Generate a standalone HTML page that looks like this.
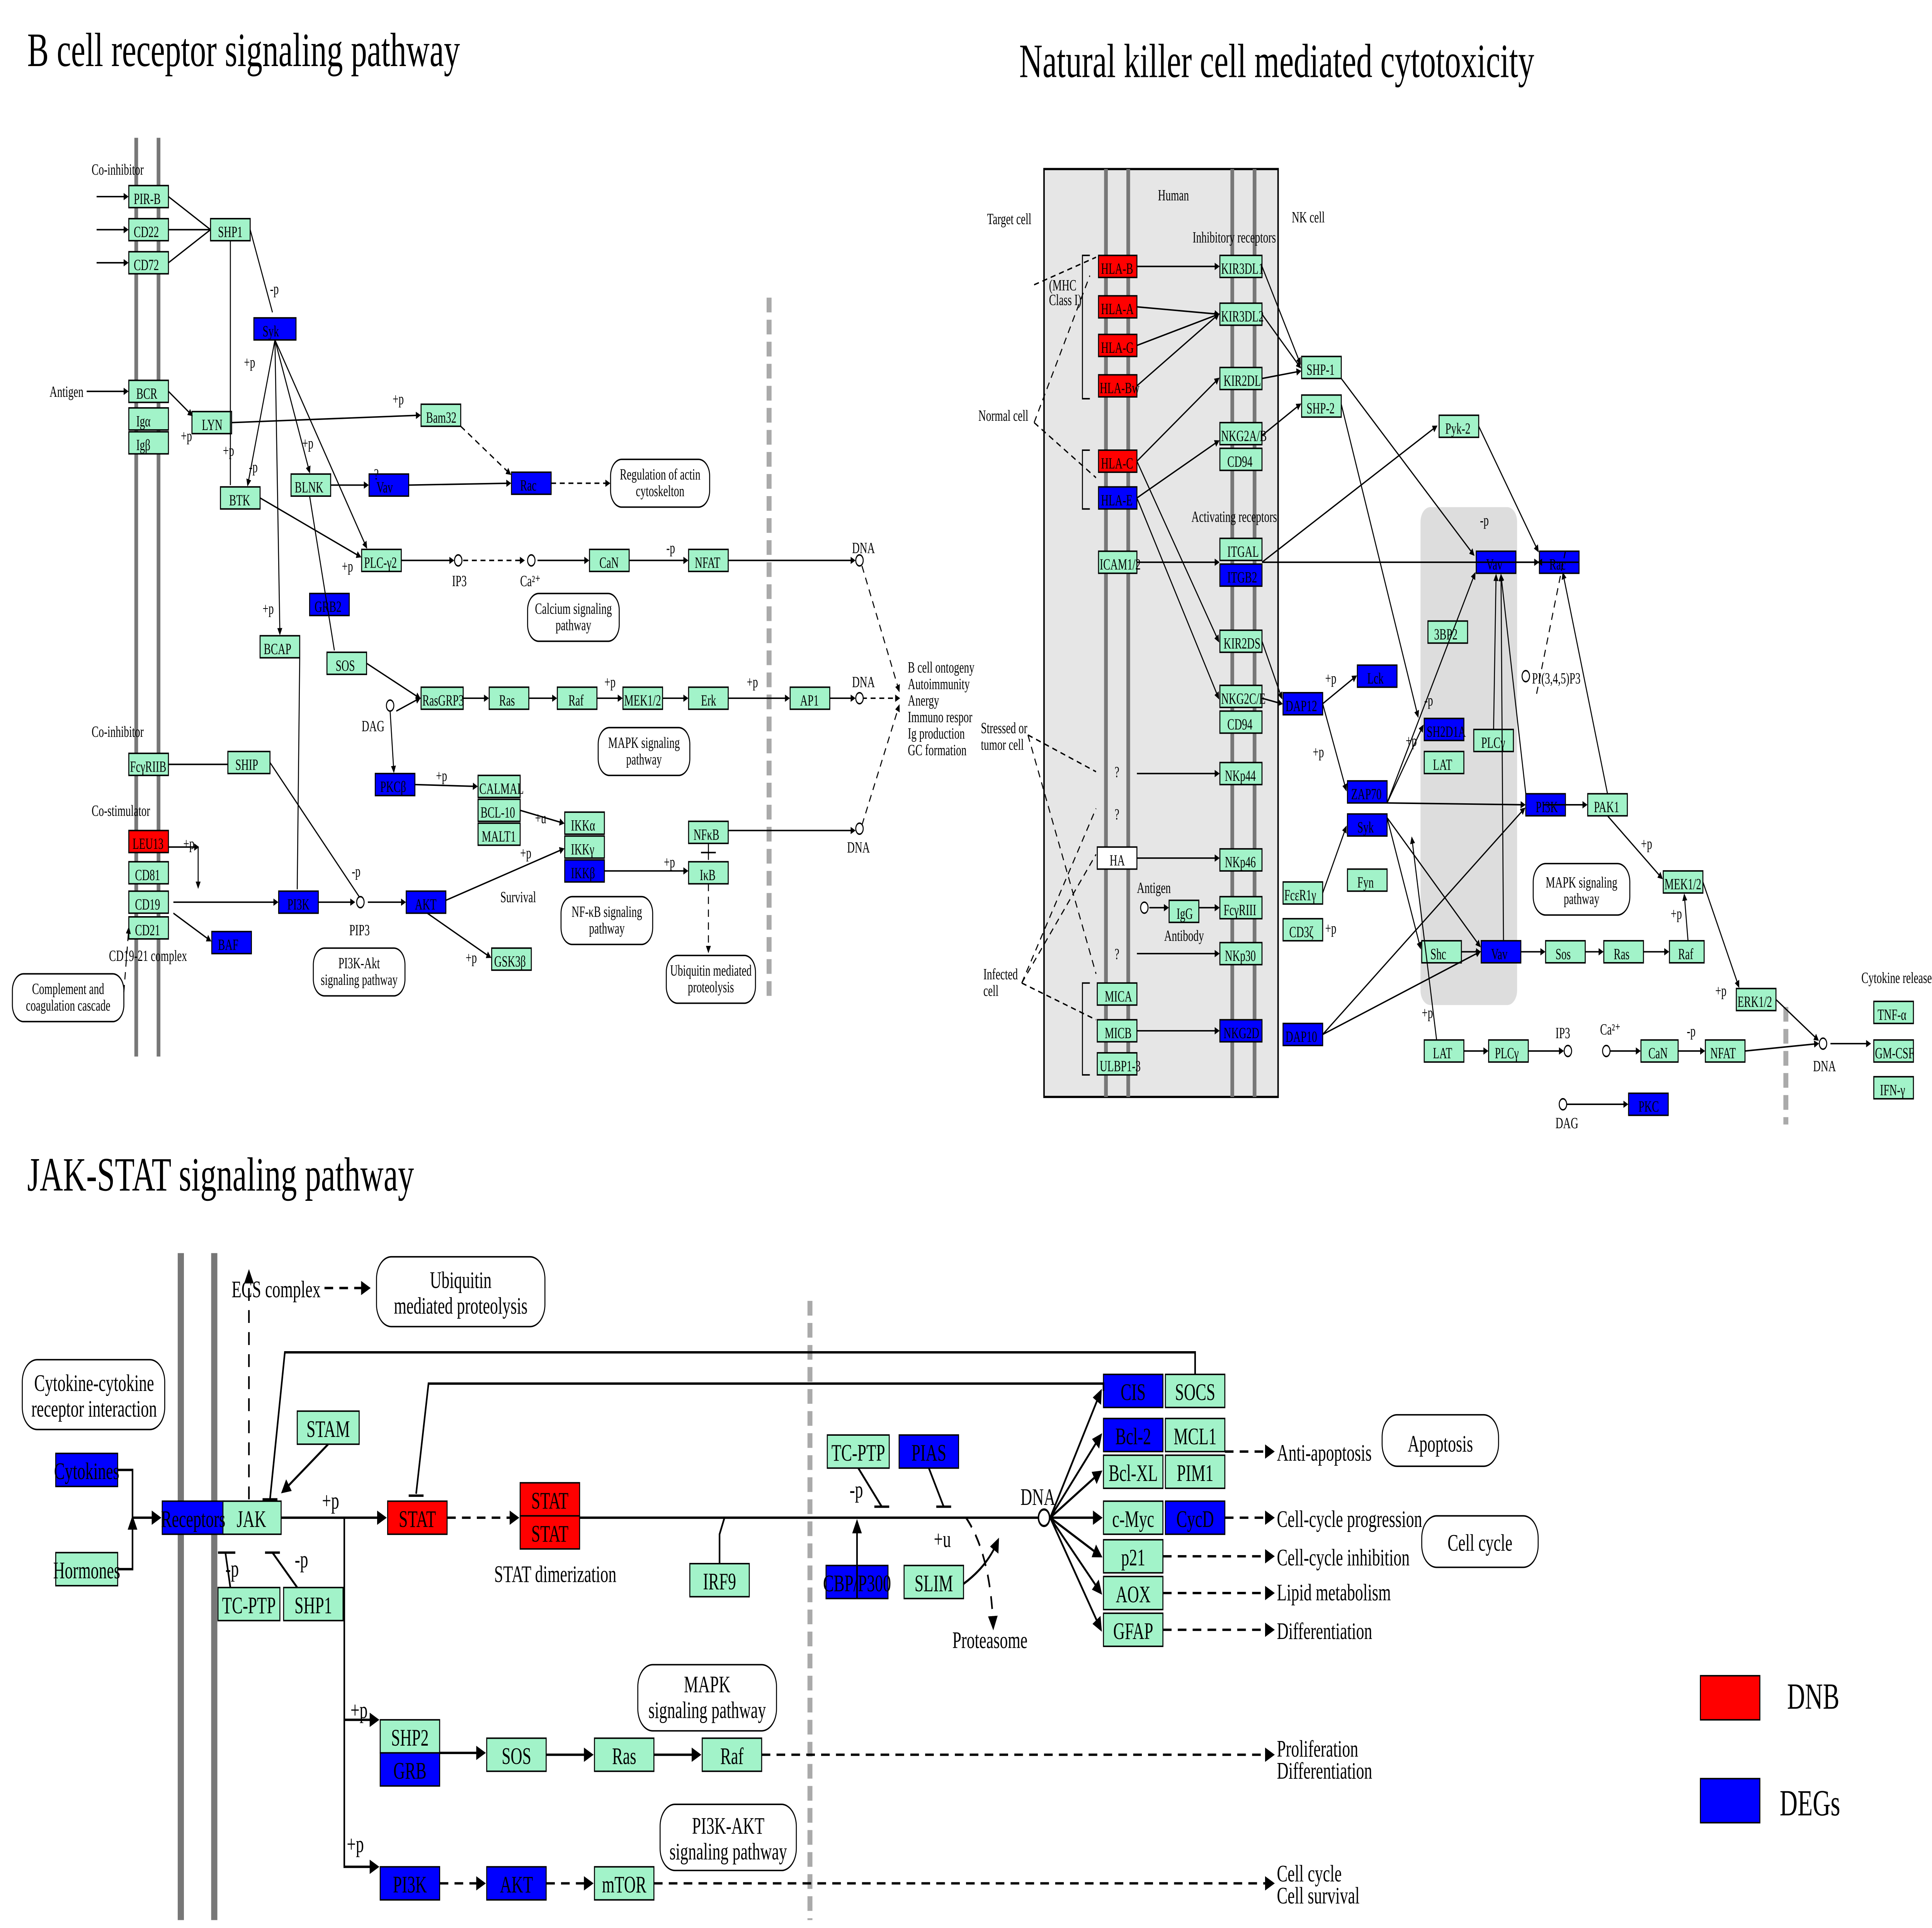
<!DOCTYPE html>
<html><head><meta charset="utf-8"><style>
html,body{margin:0;padding:0;background:#fff;width:100vw;height:100vh;overflow:hidden}
svg{display:block;width:100vw;height:100vh}
text{font-family:"Liberation Serif",serif;fill:#000}
.g{fill:#a2f3c9;stroke:#000;stroke-width:.8}
.b{fill:#0000ff;stroke:#000;stroke-width:.8}
.r{fill:#ff0000;stroke:#000;stroke-width:.8}
.w{fill:#fff;stroke:#000;stroke-width:.8}
.s{font-size:8.5px}
.m{font-size:13px}
.l{stroke:#000;stroke-width:.8;fill:none}
.d{stroke:#000;stroke-width:.8;fill:none;stroke-dasharray:4 3}
.L{stroke:#000;stroke-width:1.3;fill:none}
.D{stroke:#000;stroke-width:1.3;fill:none;stroke-dasharray:7 5}
.mem{stroke:#777;stroke-width:3;fill:none}
.memb{stroke:#777;stroke-width:5;fill:none}
.gd{stroke:#aaa;stroke-width:4;fill:none;stroke-dasharray:8 4}
.rb{fill:#fff;stroke:#000;stroke-width:.8}
</style></head><body>
<svg viewBox="0 0 1560 1049.3" preserveAspectRatio="none" xmlns="http://www.w3.org/2000/svg">
<defs>
<marker id="a" markerWidth="6" markerHeight="6" refX="5" refY="3" orient="auto"><path d="M0,0L6,3L0,6z" fill="#000"/></marker>
<marker id="A" markerWidth="5" markerHeight="5" refX="4" refY="2.5" orient="auto"><path d="M0,0L5,2.5L0,5z" fill="#000"/></marker>
</defs>

<!-- ================= B CELL ================= -->
<text x="22" y="36" font-size="26">B cell receptor signaling pathway</text>
<line class="mem" x1="110" y1="75" x2="110" y2="575"/><line class="mem" x1="128" y1="75" x2="128" y2="575"/>
<line class="gd" x1="621" y1="162" x2="621" y2="545"/>
<g class="s">
<text x="74" y="95">Co-inhibitor</text><text x="40" y="216">Antigen</text>
<text x="74" y="401">Co-inhibitor</text><text x="74" y="444">Co-stimulator</text>
<text x="88" y="523">CD19-21 complex</text>
</g>
<g>
<rect class="g" x="104" y="101" width="32" height="12"/><rect class="g" x="104" y="119" width="32" height="12"/><rect class="g" x="104" y="137" width="32" height="12"/>
<rect class="g" x="170" y="119" width="32" height="12"/><rect class="b" x="205" y="173" width="34" height="12"/>
<rect class="g" x="104" y="207" width="32" height="12"/><rect class="g" x="104" y="222" width="32" height="12"/><rect class="g" x="104" y="235" width="32" height="12"/>
<rect class="g" x="155" y="224" width="32" height="12"/><rect class="g" x="340" y="220" width="32" height="12"/>
<rect class="g" x="178" y="265" width="32" height="12"/><rect class="g" x="235" y="258" width="32" height="12"/>
<rect class="b" x="298" y="258" width="32" height="12"/><rect class="b" x="413" y="257" width="32" height="12"/>
<rect class="g" x="292" y="299" width="32" height="12"/><rect class="g" x="476" y="299" width="32" height="12"/><rect class="g" x="556" y="299" width="32" height="12"/>
<rect class="b" x="250" y="323" width="32" height="12"/><rect class="g" x="264" y="355" width="32" height="12"/><rect class="g" x="210" y="346" width="32" height="12"/>
<rect class="g" x="340" y="374" width="34" height="12"/><rect class="g" x="395" y="374" width="32" height="12"/><rect class="g" x="450" y="374" width="32" height="12"/>
<rect class="g" x="503" y="374" width="32" height="12"/><rect class="g" x="556" y="374" width="32" height="12"/><rect class="g" x="638" y="374" width="32" height="12"/>
<rect class="g" x="386" y="422" width="34" height="12"/><rect class="g" x="386" y="435" width="34" height="12"/><rect class="g" x="386" y="448" width="34" height="12"/>
<rect class="b" x="303" y="421" width="32" height="12"/><rect class="g" x="184" y="409" width="34" height="12"/><rect class="g" x="104" y="410" width="32" height="12"/>
<rect class="r" x="104" y="452" width="32" height="12"/><rect class="g" x="104" y="469" width="32" height="12"/><rect class="g" x="104" y="485" width="32" height="12"/><rect class="g" x="104" y="499" width="32" height="12"/>
<rect class="b" x="225" y="485" width="32" height="12"/><rect class="b" x="328" y="485" width="32" height="12"/>
<rect class="g" x="456" y="442" width="32" height="12"/><rect class="g" x="456" y="455" width="32" height="12"/><rect class="b" x="456" y="468" width="32" height="12"/>
<rect class="g" x="556" y="447" width="32" height="12"/><rect class="g" x="556" y="469" width="32" height="12"/>
<rect class="g" x="397" y="516" width="32" height="12"/><rect class="b" x="171" y="507" width="32" height="12"/>
</g>
<g class="s">
<text x="108" y="111">PIR-B</text><text x="108" y="129">CD22</text><text x="108" y="147">CD72</text><text x="176" y="129">SHP1</text><text x="212" y="183">Syk</text>
<text x="110" y="217">BCR</text><text x="110" y="232">Igα</text><text x="110" y="245">Igβ</text><text x="163" y="234">LYN</text><text x="344" y="230">Bam32</text>
<text x="185" y="275">BTK</text><text x="238" y="268">BLNK</text><text x="304" y="268">Vav</text><text x="420" y="267">Rac</text>
<text x="294" y="309">PLC-γ2</text><text x="484" y="309">CaN</text><text x="561" y="309">NFAT</text><text x="254" y="333">GRB2</text><text x="271" y="365">SOS</text><text x="213" y="356">BCAP</text>
<text x="341" y="384">RasGRP3</text><text x="403" y="384">Ras</text><text x="459" y="384">Raf</text><text x="504" y="384">MEK1/2</text><text x="566" y="384">Erk</text><text x="646" y="384">AP1</text>
<text x="387" y="432">CALMAL</text><text x="388" y="445">BCL-10</text><text x="389" y="458">MALT1</text><text x="307" y="431">PKCβ</text><text x="190" y="419">SHIP</text><text x="105" y="420">FcγRIIB</text>
<text x="107" y="462">LEU13</text><text x="109" y="479">CD81</text><text x="109" y="495">CD19</text><text x="109" y="509">CD21</text><text x="232" y="495">PI3K</text><text x="335" y="495">AKT</text>
<text x="461" y="452">IKKα</text><text x="461" y="465">IKKγ</text><text x="461" y="478">IKKβ</text><text x="560" y="457">NFκB</text><text x="565" y="479">IκB</text><text x="399" y="526">GSK3β</text><text x="176" y="517">BAF</text>
<text x="733" y="366">B cell ontogeny</text><text x="733" y="375">Autoimmunity</text><text x="733" y="384">Anergy</text><text x="733" y="393">Immuno respor</text><text x="733" y="402">Ig production</text><text x="733" y="411">GC formation</text>
<text x="688" y="301">DNA</text><text x="688" y="374">DNA</text><text x="684" y="464">DNA</text><text x="365" y="319">IP3</text><text x="420" y="319">Ca²⁺</text><text x="292" y="398">DAG</text><text x="282" y="509">PIP3</text><text x="404" y="491">Survival</text>
<text x="218" y="160">-p</text><text x="197" y="200">+p</text><text x="146" y="240">+p</text><text x="180" y="248">+p</text><text x="244" y="244">+p</text><text x="317" y="220">+p</text><text x="212" y="334">+p</text><text x="276" y="311">+p</text><text x="352" y="425">+p</text><text x="432" y="448">+u</text><text x="420" y="467">+p</text><text x="538" y="301">-p</text><text x="603" y="374">+p</text><text x="488" y="374">+p</text><text x="536" y="472">+p</text><text x="148" y="462">+p</text><text x="284" y="477">-p</text><text x="376" y="524">+p</text><text x="302" y="261">?</text><text x="201" y="257">-p</text>
</g>
<g class="rb"><rect x="10" y="530" width="90" height="26" rx="9"/><rect x="253" y="516" width="74" height="26" rx="9"/><rect x="426" y="323" width="74" height="26" rx="9"/><rect x="483" y="396" width="74" height="26" rx="9"/><rect x="453" y="488" width="74" height="26" rx="9"/><rect x="538" y="520" width="72" height="26" rx="9"/><rect x="493" y="250" width="80" height="26" rx="9"/></g>
<g class="s" text-anchor="middle">
<text x="55" y="541">Complement and</text><text x="55" y="550">coagulation cascade</text>
<text x="290" y="527">PI3K-Akt</text><text x="290" y="536">signaling pathway</text>
<text x="463" y="334">Calcium signaling</text><text x="463" y="343">pathway</text>
<text x="520" y="407">MAPK signaling</text><text x="520" y="416">pathway</text>
<text x="490" y="499">NF-κB signaling</text><text x="490" y="508">pathway</text>
<text x="574" y="531">Ubiquitin mediated</text><text x="574" y="540">proteolysis</text>
<text x="533" y="261">Regulation of actin</text><text x="533" y="270">cytoskelton</text>
</g>
<g class="l" marker-end="url(#A)">
<line x1="78" y1="107" x2="103" y2="107"/><line x1="78" y1="125" x2="103" y2="125"/><line x1="78" y1="143" x2="103" y2="143"/>
<line x1="70" y1="213" x2="103" y2="213"/><line x1="136" y1="213" x2="155" y2="226"/><line x1="187" y1="230" x2="339" y2="226"/>
<line x1="222" y1="185" x2="200" y2="264"/><line x1="222" y1="185" x2="250" y2="257"/><line x1="222" y1="185" x2="296" y2="298"/><line x1="222" y1="185" x2="226" y2="345"/>
<line x1="210" y1="271" x2="291" y2="303"/><line x1="267" y1="264" x2="297" y2="264"/><line x1="330" y1="264" x2="412" y2="263"/>
<line x1="324" y1="305" x2="366" y2="305"/><line x1="434" y1="305" x2="475" y2="305"/><line x1="508" y1="305" x2="555" y2="305"/><line x1="588" y1="305" x2="690" y2="305"/>
<line x1="296" y1="361" x2="339" y2="380"/><line x1="374" y1="380" x2="394" y2="380"/><line x1="427" y1="380" x2="449" y2="380"/><line x1="482" y1="380" x2="502" y2="380"/><line x1="535" y1="380" x2="555" y2="380"/><line x1="588" y1="380" x2="637" y2="380"/><line x1="670" y1="380" x2="690" y2="380"/>
<line x1="320" y1="387" x2="339" y2="380"/><line x1="315" y1="387" x2="318" y2="420"/><line x1="335" y1="427" x2="385" y2="428"/><line x1="420" y1="441" x2="455" y2="448"/>
<line x1="140" y1="491" x2="224" y2="491"/><line x1="257" y1="491" x2="286" y2="491"/><line x1="297" y1="491" x2="327" y2="491"/><line x1="360" y1="490" x2="455" y2="462"/>
<line x1="488" y1="474" x2="555" y2="474"/><line x1="588" y1="452" x2="690" y2="452"/><line x1="345" y1="497" x2="396" y2="521"/><line x1="140" y1="497" x2="170" y2="512"/>
<line x1="136" y1="461" x2="160" y2="461" /><line x1="160" y1="461" x2="160" y2="483"/>
</g>
<g class="d" marker-end="url(#A)">
<line x1="372" y1="232" x2="412" y2="258"/><line x1="445" y1="263" x2="492" y2="263"/><line x1="374" y1="305" x2="423" y2="305"/>
<line x1="696" y1="308" x2="726" y2="376"/><line x1="696" y1="380" x2="726" y2="380"/><line x1="696" y1="449" x2="726" y2="384"/>
<line x1="572" y1="481" x2="572" y2="518"/><line x1="100" y1="540" x2="104" y2="505"/>
</g>
<g class="l"><line x1="136" y1="107" x2="170" y2="125"/><line x1="136" y1="143" x2="170" y2="125"/><line x1="136" y1="125" x2="170" y2="125"/><line x1="186" y1="131" x2="186" y2="264"/><line x1="202" y1="125" x2="220" y2="170"/><line x1="218" y1="415" x2="290" y2="488"/><line x1="242" y1="358" x2="240" y2="484"/><line x1="250" y1="270" x2="270" y2="354"/><line x1="572" y1="459" x2="572" y2="468"/><line x1="566" y1="464" x2="578" y2="464"/><line x1="136" y1="416" x2="184" y2="416"/></g>
<g fill="#fff" stroke="#000" stroke-width=".8"><circle cx="370" cy="305" r="3"/><circle cx="429" cy="305" r="3"/><circle cx="694" cy="305" r="3"/><circle cx="694" cy="380" r="3"/><circle cx="694" cy="451" r="3"/><circle cx="315" cy="384" r="3"/><circle cx="291" cy="491" r="3"/></g>

<!-- ================= NK ================= -->
<text x="823" y="42" font-size="26">Natural killer cell mediated cytotoxicity</text>
<rect x="843" y="92" width="189" height="505" fill="#e6e6e6" stroke="#000" stroke-width="1.2"/>
<rect x="1147" y="276" width="78" height="271" rx="8" fill="#ddd"/>
<line class="mem" x1="893" y1="92" x2="893" y2="597"/><line class="mem" x1="911" y1="92" x2="911" y2="597"/>
<line class="mem" x1="995" y1="92" x2="995" y2="597"/><line class="mem" x1="1013" y1="92" x2="1013" y2="597"/>
<line class="gd" x1="1442" y1="548" x2="1442" y2="612"/>
<g class="s">
<text x="935" y="109">Human</text><text x="797" y="122">Target cell</text><text x="1043" y="121">NK cell</text><text x="963" y="132">Inhibitory receptors</text>
<text x="847" y="158">(MHC</text><text x="847" y="166">Class I)</text><text x="790" y="229">Normal cell</text><text x="962" y="284">Activating receptors</text>
<text x="792" y="399">Stressed or</text><text x="792" y="408">tumor cell</text><text x="794" y="533">Infected</text><text x="794" y="542">cell</text>
<text x="918" y="486">Antigen</text><text x="940" y="512">Antibody</text><text x="900" y="423">?</text><text x="900" y="446">?</text><text x="900" y="522">?</text>
<text x="1195" y="286">-p</text><text x="1237" y="372">PI(3,4,5)P3</text><text x="1150" y="384">-p</text><text x="1135" y="406">+p</text><text x="1070" y="372">+p</text><text x="1060" y="412">+p</text><text x="1070" y="508">+p</text><text x="1148" y="554">+p</text><text x="1325" y="462">+p</text><text x="1349" y="500">+p</text><text x="1385" y="542">+p</text><text x="1362" y="564">-p</text>
<text x="1256" y="565">IP3</text><text x="1292" y="563">Ca²⁺</text><text x="1256" y="614">DAG</text><text x="1464" y="583">DNA</text><text x="1503" y="535">Cytokine release</text>
</g>
<g>
<rect class="r" x="887" y="139" width="31" height="12"/><rect class="r" x="887" y="161" width="31" height="12"/><rect class="r" x="887" y="182" width="31" height="12"/><rect class="r" x="887" y="204" width="31" height="12"/>
<rect class="r" x="887" y="245" width="31" height="12"/><rect class="b" x="887" y="265" width="31" height="12"/><rect class="g" x="887" y="300" width="31" height="12"/>
<rect class="g" x="985" y="139" width="34" height="12"/><rect class="g" x="985" y="165" width="34" height="12"/><rect class="g" x="985" y="200" width="34" height="12"/>
<rect class="g" x="985" y="230" width="34" height="12"/><rect class="g" x="985" y="244" width="34" height="12"/><rect class="g" x="985" y="293" width="34" height="12"/><rect class="b" x="985" y="307" width="34" height="12"/>
<rect class="g" x="985" y="343" width="34" height="12"/><rect class="g" x="985" y="373" width="34" height="12"/><rect class="g" x="985" y="387" width="34" height="12"/>
<rect class="g" x="985" y="415" width="34" height="12"/><rect class="g" x="985" y="462" width="34" height="12"/><rect class="g" x="985" y="488" width="34" height="12"/><rect class="g" x="985" y="513" width="34" height="12"/>
<rect class="w" x="886" y="461" width="32" height="12"/><rect class="g" x="944" y="490" width="24" height="12"/>
<rect class="g" x="886" y="535" width="32" height="12"/><rect class="g" x="886" y="555" width="32" height="12"/><rect class="g" x="886" y="573" width="32" height="12"/><rect class="b" x="985" y="555" width="34" height="12"/>
<rect class="g" x="1051" y="194" width="32" height="12"/><rect class="g" x="1051" y="215" width="32" height="12"/><rect class="g" x="1162" y="226" width="32" height="12"/>
<rect class="b" x="1192" y="300" width="32" height="12"/><rect class="b" x="1243" y="300" width="32" height="12"/><rect class="g" x="1153" y="338" width="32" height="12"/>
<rect class="b" x="1036" y="377" width="32" height="12"/><rect class="b" x="1096" y="362" width="32" height="12"/><rect class="b" x="1150" y="391" width="32" height="12"/><rect class="g" x="1150" y="409" width="32" height="12"/><rect class="g" x="1190" y="397" width="32" height="12"/>
<rect class="b" x="1088" y="425" width="32" height="12"/><rect class="b" x="1088" y="443" width="32" height="12"/><rect class="g" x="1088" y="473" width="32" height="12"/>
<rect class="g" x="1036" y="480" width="32" height="12"/><rect class="g" x="1036" y="500" width="32" height="12"/>
<rect class="b" x="1232" y="432" width="32" height="12"/><rect class="g" x="1282" y="432" width="32" height="12"/><rect class="g" x="1343" y="474" width="32" height="12"/>
<rect class="g" x="1148" y="512" width="32" height="12"/><rect class="b" x="1196" y="512" width="32" height="12"/><rect class="g" x="1248" y="512" width="32" height="12"/><rect class="g" x="1295" y="512" width="32" height="12"/><rect class="g" x="1348" y="512" width="28" height="12"/>
<rect class="b" x="1036" y="557" width="32" height="12"/><rect class="g" x="1150" y="566" width="32" height="12"/><rect class="g" x="1202" y="566" width="32" height="12"/>
<rect class="g" x="1325" y="566" width="30" height="12"/><rect class="g" x="1377" y="566" width="32" height="12"/><rect class="g" x="1402" y="538" width="32" height="12"/><rect class="b" x="1315" y="595" width="32" height="12"/>
<rect class="g" x="1513" y="545" width="32" height="12"/><rect class="g" x="1513" y="566" width="32" height="12"/><rect class="g" x="1513" y="586" width="32" height="12"/>
</g>
<g class="s">
<text x="889" y="149">HLA-B</text><text x="889" y="171">HLA-A</text><text x="889" y="192">HLA-G</text><text x="888" y="214">HLA-Bw</text><text x="889" y="255">HLA-C</text><text x="889" y="275">HLA-E</text><text x="888" y="310">ICAM1/2</text>
<text x="986" y="149">KIR3DL1</text><text x="986" y="175">KIR3DL2</text><text x="988" y="210">KIR2DL</text><text x="986" y="240">NKG2A/B</text><text x="991" y="254">CD94</text><text x="991" y="303">ITGAL</text><text x="991" y="317">ITGB2</text>
<text x="988" y="353">KIR2DS</text><text x="986" y="383">NKG2C/E</text><text x="991" y="397">CD94</text><text x="989" y="425">NKp44</text><text x="989" y="472">NKp46</text><text x="988" y="498">FcγRIII</text><text x="989" y="523">NKp30</text>
<text x="896" y="471">HA</text><text x="950" y="500">IgG</text><text x="892" y="545">MICA</text><text x="892" y="565">MICB</text><text x="888" y="583">ULBP1-3</text><text x="988" y="565">NKG2D</text>
<text x="1055" y="204">SHP-1</text><text x="1055" y="225">SHP-2</text><text x="1167" y="236">Pyk-2</text><text x="1200" y="310">Vav</text><text x="1251" y="310">Rac</text><text x="1158" y="348">3BP2</text>
<text x="1038" y="387">DAP12</text><text x="1104" y="372">Lck</text><text x="1152" y="401">SH2D1A</text><text x="1157" y="419">LAT</text><text x="1196" y="407">PLCγ</text>
<text x="1091" y="435">ZAP70</text><text x="1096" y="453">Syk</text><text x="1096" y="483">Fyn</text><text x="1037" y="490">FcεR1γ</text><text x="1041" y="510">CD3ζ</text>
<text x="1240" y="442">PI3K</text><text x="1287" y="442">PAK1</text><text x="1344" y="484">MEK1/2</text><text x="1155" y="522">Shc</text><text x="1204" y="522">Vav</text><text x="1256" y="522">Sos</text><text x="1303" y="522">Ras</text><text x="1355" y="522">Raf</text>
<text x="1038" y="567">DAP10</text><text x="1157" y="576">LAT</text><text x="1207" y="576">PLCγ</text><text x="1331" y="576">CaN</text><text x="1381" y="576">NFAT</text><text x="1403" y="548">ERK1/2</text><text x="1323" y="605">PKC</text>
<text x="1516" y="555">TNF-α</text><text x="1514" y="576">GM-CSF</text><text x="1518" y="596">IFN-γ</text>
</g>
<rect class="rb" x="1238" y="470" width="78" height="28" rx="10"/>
<g class="s" text-anchor="middle"><text x="1277" y="483">MAPK signaling</text><text x="1277" y="492">pathway</text></g>
<g class="d"><line x1="835" y1="155" x2="885" y2="140"/><line x1="835" y1="230" x2="880" y2="150"/><line x1="835" y1="230" x2="885" y2="260"/><line x1="830" y1="400" x2="885" y2="530"/><line x1="830" y1="400" x2="885" y2="420"/><line x1="825" y1="535" x2="885" y2="465"/><line x1="825" y1="535" x2="885" y2="555"/><line x1="825" y1="535" x2="885" y2="440"/><line x1="1264" y1="300" x2="1240" y2="380"/></g>
<g class="l" marker-end="url(#A)">
<line x1="918" y1="145" x2="984" y2="145"/><line x1="918" y1="167" x2="984" y2="171"/><line x1="918" y1="188" x2="984" y2="171"/><line x1="918" y1="210" x2="984" y2="171"/><line x1="918" y1="251" x2="984" y2="206"/><line x1="918" y1="271" x2="984" y2="240"/><line x1="918" y1="306" x2="984" y2="306"/>
<line x1="918" y1="251" x2="984" y2="349"/><line x1="918" y1="271" x2="984" y2="380"/><line x1="918" y1="421" x2="984" y2="421"/><line x1="918" y1="467" x2="984" y2="467"/><line x1="928" y1="494" x2="943" y2="494"/><line x1="968" y1="494" x2="984" y2="494"/><line x1="918" y1="519" x2="984" y2="519"/><line x1="918" y1="561" x2="984" y2="561"/>
<line x1="1019" y1="145" x2="1050" y2="198"/><line x1="1019" y1="171" x2="1050" y2="200"/><line x1="1019" y1="206" x2="1050" y2="202"/><line x1="1019" y1="237" x2="1050" y2="220"/>
<line x1="1019" y1="306" x2="1242" y2="306"/><line x1="1224" y1="306" x2="1242" y2="306"/><line x1="1275" y1="306" x2="1242" y2="306"/><line x1="1019" y1="306" x2="1160" y2="232"/>
<line x1="1019" y1="349" x2="1035" y2="380"/><line x1="1019" y1="380" x2="1035" y2="383"/><line x1="1068" y1="383" x2="1095" y2="368"/><line x1="1068" y1="383" x2="1087" y2="430"/><line x1="1068" y1="486" x2="1087" y2="450"/><line x1="1068" y1="563" x2="1195" y2="518"/><line x1="1068" y1="563" x2="1231" y2="440"/>
<line x1="1120" y1="437" x2="1231" y2="438"/><line x1="1120" y1="437" x2="1149" y2="395"/><line x1="1120" y1="437" x2="1191" y2="312"/><line x1="1120" y1="445" x2="1147" y2="516"/><line x1="1120" y1="445" x2="1195" y2="515"/>
<line x1="1180" y1="518" x2="1195" y2="518"/><line x1="1228" y1="518" x2="1247" y2="518"/><line x1="1280" y1="518" x2="1294" y2="518"/><line x1="1327" y1="518" x2="1347" y2="518"/><line x1="1363" y1="512" x2="1360" y2="487"/><line x1="1375" y1="480" x2="1404" y2="537"/>
<line x1="1182" y1="572" x2="1201" y2="572"/><line x1="1234" y1="572" x2="1262" y2="572"/><line x1="1300" y1="572" x2="1324" y2="572"/><line x1="1355" y1="572" x2="1376" y2="572"/><line x1="1409" y1="572" x2="1468" y2="568"/><line x1="1434" y1="544" x2="1468" y2="566"/>
<line x1="1265" y1="601" x2="1314" y2="601"/><line x1="1478" y1="568" x2="1510" y2="568"/><line x1="1083" y1="206" x2="1190" y2="302"/><line x1="1194" y1="232" x2="1242" y2="300"/><line x1="1246" y1="438" x2="1281" y2="438" /><line x1="1298" y1="432" x2="1262" y2="312"/><line x1="1298" y1="444" x2="1342" y2="478"/>
<line x1="1206" y1="397" x2="1208" y2="313"/><line x1="1232" y1="432" x2="1212" y2="313"/><line x1="1214" y1="512" x2="1212" y2="313"/><line x1="1160" y1="566" x2="1140" y2="456"/><line x1="1083" y1="220" x2="1145" y2="390"/>
</g>
<g fill="#fff" stroke="#000" stroke-width=".8"><circle cx="924" cy="494" r="3"/><circle cx="1232" cy="368" r="3"/><circle cx="1266" cy="572" r="3"/><circle cx="1297" cy="572" r="3"/><circle cx="1262" cy="601" r="3"/><circle cx="1472" cy="568" r="3"/></g>
<path class="l" d="M880,139 h-6 v78 h6 M880,245 h-6 v32 h6 M880,535 h-6 v50 h6"/>

<!-- ================= JAK-STAT ================= -->
<text x="22" y="648" font-size="26">JAK-STAT signaling pathway</text>
<line class="memb" x1="146" y1="682" x2="146" y2="1045"/><line class="memb" x1="173" y1="682" x2="173" y2="1045"/>
<line class="gd" x1="654" y1="708" x2="654" y2="1045"/>
<g>
<rect class="b" x="45" y="791" width="50" height="18"/><rect class="g" x="45" y="845" width="50" height="18"/>
<rect class="b" x="131" y="817" width="50" height="18"/><rect class="g" x="180" y="817" width="47" height="18"/>
<rect class="g" x="240" y="768" width="50" height="18"/><rect class="g" x="176" y="864" width="50" height="18"/><rect class="g" x="229" y="864" width="48" height="18"/>
<rect class="r" x="313" y="817" width="48" height="18"/><rect class="r" x="420" y="807" width="48" height="18"/><rect class="r" x="420" y="825" width="48" height="18"/>
<rect class="g" x="557" y="851" width="48" height="18"/><rect class="g" x="668" y="781" width="50" height="18"/><rect class="b" x="726" y="781" width="48" height="18"/>
<rect class="b" x="667" y="852" width="50" height="18"/><rect class="g" x="730" y="852" width="48" height="18"/>
<rect class="b" x="891" y="748" width="48" height="18"/><rect class="g" x="941" y="748" width="48" height="18"/>
<rect class="b" x="891" y="772" width="48" height="18"/><rect class="g" x="941" y="772" width="48" height="18"/>
<rect class="g" x="891" y="792" width="48" height="18"/><rect class="g" x="941" y="792" width="48" height="18"/>
<rect class="g" x="891" y="817" width="48" height="18"/><rect class="b" x="941" y="817" width="48" height="18"/>
<rect class="g" x="891" y="838" width="48" height="18"/><rect class="g" x="891" y="858" width="48" height="18"/><rect class="g" x="891" y="878" width="48" height="18"/>
<rect class="g" x="307" y="936" width="48" height="18"/><rect class="b" x="307" y="954" width="48" height="18"/>
<rect class="g" x="393" y="946" width="48" height="18"/><rect class="g" x="480" y="946" width="48" height="18"/><rect class="g" x="567" y="946" width="48" height="18"/>
<rect class="b" x="307" y="1016" width="48" height="18"/><rect class="b" x="393" y="1016" width="48" height="18"/><rect class="g" x="480" y="1016" width="48" height="18"/>
</g>
<g class="m" text-anchor="middle">
<text x="70" y="805">Cytokines</text><text x="70" y="859">Hormones</text><text x="156" y="831">Receptors</text><text x="203" y="831">JAK</text>
<text x="265" y="782">STAM</text><text x="201" y="878">TC-PTP</text><text x="253" y="878">SHP1</text><text x="337" y="831">STAT</text><text x="444" y="821">STAT</text><text x="444" y="839">STAT</text>
<text x="581" y="865">IRF9</text><text x="693" y="795">TC-PTP</text><text x="750" y="795">PIAS</text><text x="692" y="866">CBP/P300</text><text x="754" y="866">SLIM</text>
<text x="915" y="762">CIS</text><text x="965" y="762">SOCS</text><text x="915" y="786">Bcl-2</text><text x="965" y="786">MCL1</text><text x="915" y="806">Bcl-XL</text><text x="965" y="806">PIM1</text>
<text x="915" y="831">c-Myc</text><text x="965" y="831">CycD</text><text x="915" y="852">p21</text><text x="915" y="872">AOX</text><text x="915" y="892">GFAP</text>
<text x="331" y="950">SHP2</text><text x="331" y="968">GRB</text><text x="417" y="960">SOS</text><text x="504" y="960">Ras</text><text x="591" y="960">Raf</text>
<text x="331" y="1030">PI3K</text><text x="417" y="1030">AKT</text><text x="504" y="1030">mTOR</text>
</g>
<g class="rb"><rect x="18" y="740" width="115" height="38" rx="12"/><rect x="304" y="684" width="136" height="38" rx="12"/><rect x="515" y="906" width="112" height="36" rx="12"/><rect x="533" y="982" width="110" height="36" rx="12"/><rect x="1116" y="770" width="94" height="28" rx="12"/><rect x="1148" y="825" width="94" height="28" rx="12"/></g>
<g class="m" text-anchor="middle">
<text x="76" y="757">Cytokine-cytokine</text><text x="76" y="771">receptor interaction</text>
<text x="372" y="701">Ubiquitin</text><text x="372" y="715">mediated proteolysis</text>
<text x="571" y="921">MAPK</text><text x="571" y="935">signaling pathway</text>
<text x="588" y="998">PI3K-AKT</text><text x="588" y="1012">signaling pathway</text>
<text x="1163" y="790">Apoptosis</text><text x="1195" y="844">Cell cycle</text>
</g>
<g class="m">
<text x="187" y="706">ECS complex</text><text x="399" y="861">STAT dimerization</text><text x="769" y="897">Proteasome</text><text x="824" y="819">DNA</text>
<text x="1031" y="795">Anti-apoptosis</text><text x="1031" y="831">Cell-cycle progression</text><text x="1031" y="852">Cell-cycle inhibition</text><text x="1031" y="871">Lipid metabolism</text><text x="1031" y="892">Differentiation</text>
<text x="1031" y="956">Proliferation</text><text x="1031" y="968">Differentiation</text><text x="1031" y="1024">Cell cycle</text><text x="1031" y="1036">Cell survival</text>
<text x="260" y="821">+p</text><text x="182" y="858">-p</text><text x="238" y="853">-p</text><text x="686" y="815">-p</text><text x="754" y="842">+u</text><text x="283" y="935">+p</text><text x="280" y="1008">+p</text>
</g>
<g class="L" marker-end="url(#a)">
<path d="M95,800 h12 v26 h22"/><path d="M95,854 h12 v-28"/><line x1="227" y1="826" x2="311" y2="826"/><line x1="265" y1="786" x2="228" y2="812"/>
<path d="M270,826 h8 v110 h27"/><path d="M278,936 v80 h27"/><line x1="355" y1="954" x2="391" y2="954"/><line x1="441" y1="955" x2="478" y2="955"/><line x1="528" y1="955" x2="565" y2="955"/>
<line x1="692" y1="870" x2="692" y2="828"/><path d="M778,862 q20,-10 28,-24"/>
<line x1="848" y1="826" x2="889" y2="757"/><line x1="848" y1="826" x2="889" y2="781"/><line x1="848" y1="826" x2="889" y2="801"/><line x1="848" y1="826" x2="889" y2="826"/><line x1="848" y1="826" x2="889" y2="847"/><line x1="848" y1="826" x2="889" y2="867"/><line x1="848" y1="826" x2="889" y2="887"/>
</g>
<g class="D" marker-end="url(#a)">
<line x1="201" y1="816" x2="201" y2="692"/><line x1="262" y1="701" x2="298" y2="701"/><line x1="361" y1="826" x2="418" y2="826"/>
<line x1="355" y1="1025" x2="391" y2="1025"/><line x1="441" y1="1025" x2="478" y2="1025"/><path d="M780,826 q20,20 22,60"/>
<line x1="989" y1="790" x2="1028" y2="790"/><line x1="989" y1="826" x2="1028" y2="826"/><line x1="939" y1="847" x2="1028" y2="847"/><line x1="939" y1="867" x2="1028" y2="867"/><line x1="939" y1="887" x2="1028" y2="887"/>
<line x1="615" y1="955" x2="1028" y2="955"/><line x1="528" y1="1025" x2="1028" y2="1025"/>
</g>
<g class="L">
<line x1="468" y1="826" x2="838" y2="826"/><path d="M581,851 v-16 l4,-9"/>
<path d="M965,748 v-12 h-735 l-12,80"/><line x1="212" y1="816" x2="224" y2="816"/><path d="M891,757 v-4 h-545 l-10,60"/><line x1="330" y1="814" x2="342" y2="814"/>
<line x1="186" y1="864" x2="182" y2="845"/><line x1="176" y1="845" x2="190" y2="845"/><line x1="240" y1="864" x2="220" y2="845"/><line x1="214" y1="845" x2="226" y2="845"/>
<line x1="693" y1="799" x2="712" y2="820"/><line x1="706" y1="820" x2="718" y2="820"/><line x1="750" y1="799" x2="762" y2="820"/><line x1="756" y1="820" x2="768" y2="820"/>
</g>
<circle cx="843" cy="826" r="4.5" fill="#fff" stroke="#000" stroke-width="1.2"/>
<rect x="1373" y="912" width="48" height="24" fill="#ff0000" stroke="#000" stroke-width=".8"/><text x="1443" y="930" font-size="20">DNB</text>
<rect x="1373" y="968" width="48" height="24" fill="#0000ff" stroke="#000" stroke-width=".8"/><text x="1437" y="988" font-size="20">DEGs</text>
</svg>
</body></html>
